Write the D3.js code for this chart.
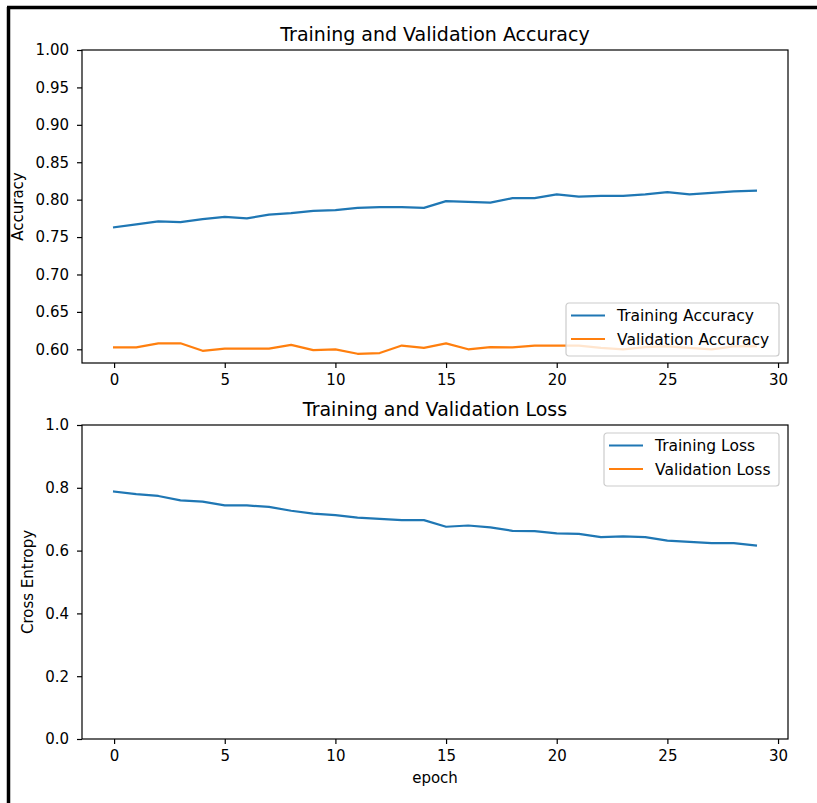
<!DOCTYPE html>
<html>
<head>
<meta charset="utf-8">
<script src="https://cdn.jsdelivr.net/npm/d3@7"></script>
<style>
  html, body { margin: 0; padding: 0; background: #fff; }
  svg { display: block; }
  text { font-family: "DejaVu Sans", sans-serif; fill: #000; }
</style>
</head>
<body>
<svg id="chart" width="817" height="803"></svg>
<script>
// ---------------- data ----------------
const epochs = d3.range(0, 30);
const trainingAccuracy = [0.763, 0.767, 0.771, 0.770, 0.774, 0.777, 0.775, 0.780, 0.782, 0.785,
  0.786, 0.789, 0.790, 0.790, 0.789, 0.798, 0.797, 0.796, 0.802, 0.802,
  0.807, 0.804, 0.805, 0.805, 0.807, 0.810, 0.807, 0.809, 0.811, 0.812];
const validationAccuracy = [0.6025, 0.6025, 0.608, 0.608, 0.598, 0.601, 0.601, 0.601, 0.606, 0.599,
  0.600, 0.594, 0.595, 0.605, 0.602, 0.608, 0.600, 0.603, 0.6025, 0.605,
  0.605, 0.605, 0.602, 0.600, 0.603, 0.604, 0.602, 0.600, 0.604, 0.604];
const trainingLoss = [0.788, 0.780, 0.774, 0.760, 0.756, 0.744, 0.744, 0.739, 0.727, 0.718,
  0.713, 0.705, 0.701, 0.697, 0.697, 0.676, 0.680, 0.674, 0.663, 0.662,
  0.655, 0.653, 0.643, 0.645, 0.643, 0.632, 0.628, 0.624, 0.624, 0.616];
// validation loss lies above the plotted range (ylim 0..1), so it is clipped away
const validationLoss = [1.10, 1.09, 1.08, 1.10, 1.11, 1.10, 1.12, 1.11, 1.10, 1.12,
  1.13, 1.12, 1.14, 1.12, 1.13, 1.12, 1.14, 1.13, 1.14, 1.13,
  1.14, 1.15, 1.14, 1.15, 1.15, 1.14, 1.16, 1.15, 1.16, 1.16];
const xTicks = [0, 5, 10, 15, 20, 25, 30];
const accTicks = [0.60, 0.65, 0.70, 0.75, 0.80, 0.85, 0.90, 0.95, 1.00];
const lossTicks = [0.0, 0.2, 0.4, 0.6, 0.8, 1.0];
const accDomain = [0.5817, 1.0];
const lossDomain = [0.0, 1.0];
const xDomain = [-1.45, 30.45];

const BLUE = "#1f77b4", ORANGE = "#ff7f0e";

const svg = d3.select("#chart");

// outer frame (left and top borders of the screenshot)
svg.append("line").attr("x1", 8.5).attr("x2", 8.5).attr("y1", 7).attr("y2", 803)
  .attr("stroke", "#000").attr("stroke-width", 3.5);
svg.append("line").attr("x1", 7).attr("x2", 817).attr("y1", 7.5).attr("y2", 7.5)
  .attr("stroke", "#000").attr("stroke-width", 3.5);

function panel(opts) {
  const { left, right, top, bottom, yDomain, yTicks, yFmt, title, ylabel, ylabelX,
          series, legendPos, xlabel, clipId } = opts;
  const x = d3.scaleLinear().domain(xDomain).range([left, right]);
  const y = d3.scaleLinear().domain(yDomain).range([bottom, top]);
  const g = svg.append("g");

  g.append("clipPath").attr("id", clipId).append("rect")
    .attr("x", left).attr("y", top).attr("width", right - left).attr("height", bottom - top);

  // lines
  const line = (vals) => d3.line().x((d, i) => x(epochs[i])).y(d => y(d))(vals);
  series.forEach(s => {
    g.append("path").attr("d", line(s.values)).attr("fill", "none")
      .attr("stroke", s.color).attr("stroke-width", 2.2)
      .attr("stroke-linejoin", "round").attr("stroke-linecap", "square")
      .attr("clip-path", `url(#${clipId})`);
  });

  // axes
  const xAxis = d3.axisBottom(x).tickValues(xTicks).tickFormat(d3.format("d"))
    .tickSize(5).tickPadding(6);
  const gx = g.append("g").attr("transform", `translate(0,${bottom})`).call(xAxis);
  const yAxis = d3.axisLeft(y).tickValues(yTicks).tickFormat(d3.format(yFmt))
    .tickSize(5).tickPadding(8);
  const gy = g.append("g").attr("transform", `translate(${left},0)`).call(yAxis);
  [gx, gy].forEach(a => {
    a.select(".domain").remove();
    a.selectAll(".tick line").attr("stroke", "#000").attr("stroke-width", 1.2);
    a.selectAll(".tick text").attr("font-size", 15)
      .style("font-family", '"DejaVu Sans", sans-serif').attr("fill", "#000");
  });

  // spines
  g.append("rect").attr("x", left).attr("y", top)
    .attr("width", right - left).attr("height", bottom - top)
    .attr("fill", "none").attr("stroke", "#000").attr("stroke-width", 1.2);

  // title
  g.append("text").attr("x", (left + right) / 2).attr("y", top - 9)
    .attr("text-anchor", "middle").attr("font-size", 19).text(title);

  // y label
  g.append("text")
    .attr("transform", `translate(${ylabelX},${(top + bottom) / 2}) rotate(-90)`)
    .attr("text-anchor", "middle").attr("font-size", 15).text(ylabel);

  if (xlabel) {
    g.append("text").attr("x", (left + right) / 2).attr("y", bottom + 44)
      .attr("text-anchor", "middle").attr("font-size", 15).text(xlabel);
  }

  // legend
  const lg = g.append("g").attr("transform", `translate(${legendPos.x},${legendPos.y})`);
  lg.append("rect").attr("x", 0).attr("y", 0).attr("width", legendPos.w).attr("height", 53)
    .attr("rx", 3).attr("fill", "#fff").attr("fill-opacity", 0.8)
    .attr("stroke", "#cccccc").attr("stroke-width", 1.2);
  series.forEach((s, i) => {
    const cy = 12.5 + i * 23.5;
    lg.append("line").attr("x1", 5).attr("x2", 39).attr("y1", cy).attr("y2", cy)
      .attr("stroke", s.color).attr("stroke-width", 2.2);
    lg.append("text").attr("x", 51).attr("y", cy + 5.5).attr("font-size", 15.5).text(s.name);
  });
}

panel({
  left: 82, right: 788, top: 50, bottom: 363,
  yDomain: accDomain, yTicks: accTicks, yFmt: ".2f",
  title: "Training and Validation Accuracy", ylabel: "Accuracy", ylabelX: 23,
  series: [
    { name: "Training Accuracy", values: trainingAccuracy, color: BLUE },
    { name: "Validation Accuracy", values: validationAccuracy, color: ORANGE }
  ],
  legendPos: { x: 566, y: 303, w: 213 },
  clipId: "clipAcc"
});

panel({
  left: 82, right: 788, top: 425, bottom: 739,
  yDomain: lossDomain, yTicks: lossTicks, yFmt: ".1f",
  title: "Training and Validation Loss", ylabel: "Cross Entropy", ylabelX: 33,
  series: [
    { name: "Training Loss", values: trainingLoss, color: BLUE },
    { name: "Validation Loss", values: validationLoss, color: ORANGE }
  ],
  legendPos: { x: 604, y: 433, w: 175 },
  xlabel: "epoch",
  clipId: "clipLoss"
});
</script>
</body>
</html>
